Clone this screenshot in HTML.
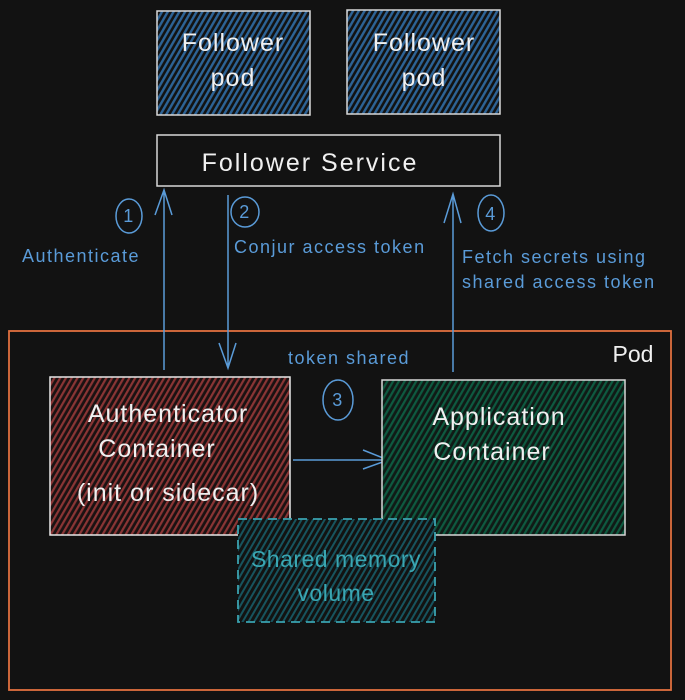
<!DOCTYPE html>
<html><head><meta charset="utf-8"><style>
html,body{margin:0;padding:0;background:#121212;}
svg{display:block}
text{font-family:"Liberation Sans",sans-serif;}
</style></head><body>
<svg width="685" height="700" viewBox="0 0 685 700" xmlns="http://www.w3.org/2000/svg">
<defs>
<pattern id="hb" width="5" height="5" patternUnits="userSpaceOnUse" patternTransform="rotate(30)">
<rect width="5" height="5" fill="#121212"/><rect width="2.4" height="5" fill="#2d6396"/></pattern>
<pattern id="hr" width="5" height="5" patternUnits="userSpaceOnUse" patternTransform="rotate(30)">
<rect width="5" height="5" fill="#1a1212"/><rect width="2.2" height="5" fill="#8a3535"/></pattern>
<pattern id="hg" width="5" height="5" patternUnits="userSpaceOnUse" patternTransform="rotate(30)">
<rect width="5" height="5" fill="#101a16"/><rect width="2.2" height="5" fill="#0e5a40"/></pattern>
<pattern id="ht" width="5" height="5" patternUnits="userSpaceOnUse" patternTransform="rotate(30)">
<rect width="5" height="5" fill="#121212"/><rect width="2" height="5" fill="#17535e"/></pattern>
</defs>
<rect width="685" height="700" fill="#121212"/>

<rect x="157" y="11" width="153" height="104" fill="url(#hb)" stroke="#d8d8d8" stroke-width="1.5"/>
<rect x="347" y="10" width="153" height="104" fill="url(#hb)" stroke="#d8d8d8" stroke-width="1.5"/>
<g fill="#f0f0f0" font-size="25" letter-spacing="1" text-anchor="middle">
<text x="233" y="51">Follower</text><text x="233" y="86">pod</text>
<text x="424" y="51">Follower</text><text x="424" y="86">pod</text>
</g>
<rect x="157" y="135" width="343" height="51" fill="#121212" stroke="#d8d8d8" stroke-width="1.5"/>
<text x="310" y="171" fill="#f0f0f0" font-size="25" letter-spacing="2" text-anchor="middle">Follower Service</text>

<rect x="9" y="331" width="662" height="359" fill="none" stroke="#e0703f" stroke-width="1.8"/>
<text x="633" y="362" fill="#f0f0f0" font-size="23" text-anchor="middle">Pod</text>

<g stroke="#5a9bd8" stroke-width="1.5" fill="none">
<path d="M164 370 V190 M155 215 L164 190 L172 215"/>
<path d="M228 195 V368 M219 343 L228 368 L236 343"/>
<path d="M453 372 V194 M444 223 L453 194 L461 223"/>
<path d="M293 460 H388 M363 450 L388 460 L363 469"/>
<ellipse cx="129" cy="216" rx="13" ry="17"/>
<ellipse cx="245" cy="212" rx="14" ry="15"/>
<ellipse cx="491" cy="213" rx="13" ry="18"/>
<ellipse cx="338" cy="400" rx="15" ry="20"/>
</g>
<g fill="#5a9bd8" font-size="18" letter-spacing="1.5">
<text x="129" y="222" text-anchor="middle">1</text>
<text x="245" y="218" text-anchor="middle">2</text>
<text x="491" y="220" text-anchor="middle">4</text>
<text x="338" y="406" text-anchor="middle">3</text>
<text x="22" y="262">Authenticate</text>
<text x="234" y="253">Conjur access token</text>
<text x="462" y="263">Fetch secrets using</text>
<text x="462" y="288">shared access token</text>
<text x="288" y="364">token shared</text>
</g>

<rect x="50" y="377" width="240" height="158" fill="url(#hr)" stroke="#e8e8e8" stroke-width="1.5"/>
<rect x="382" y="380" width="243" height="155" fill="url(#hg)" stroke="#d8d8d8" stroke-width="1.5"/>
<rect x="238" y="519" width="197" height="103" fill="url(#ht)" stroke="#3aa3b0" stroke-width="1.8" stroke-dasharray="9 6"/>
<g fill="#f0f0f0" font-size="25" letter-spacing="1" text-anchor="middle">
<text x="168" y="422">Authenticator</text>
<text x="157" y="457">Container</text>
<text x="168" y="501">(init or sidecar)</text>
<text x="499" y="425">Application</text>
<text x="492" y="460">Container</text>
</g>
<g fill="#3aa6b2" font-size="23" letter-spacing="0.5" text-anchor="middle">
<text x="336" y="567">Shared memory</text>
<text x="336" y="601">volume</text>
</g>
</svg>
</body></html>
